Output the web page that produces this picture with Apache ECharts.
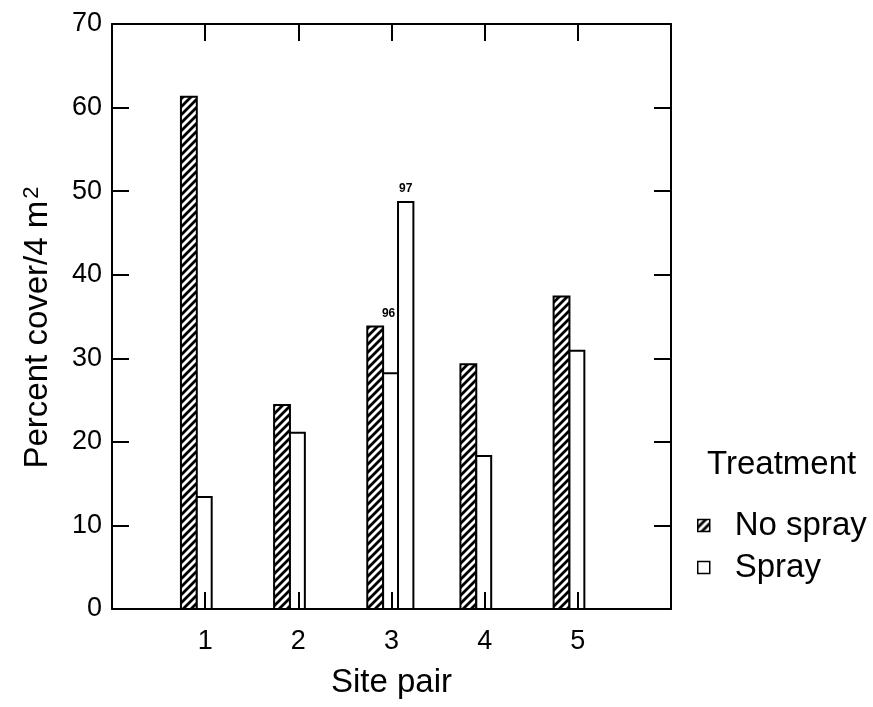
<!DOCTYPE html>
<html>
<head>
<meta charset="utf-8">
<script src="https://cdn.jsdelivr.net/npm/echarts@6/dist/echarts.min.js"></script>
<style>
  html, body { margin: 0; padding: 0; background: #fff; }
  #chart { width: 873px; height: 707px; }
</style>
</head>
<body>
<div id="chart"></div>
<script>
// Percent cover per 4 m² by site pair, unsprayed vs sprayed plots
const sites = [1, 2, 3, 4, 5];
const noSpray = [61.3, 24.4, 33.8, 29.3, 37.4];
const spray = [13.4, 21.1, 28.2, 18.3, 30.9];
const sprayNotes = ['', '', '96', '', ''];
// second survey of the sprayed plot at site pair 3
const spraySecondSites = [3];
const spraySecond = [48.7];
const spraySecondNotes = ['97'];
const yTicks = [0, 10, 20, 30, 40, 50, 60, 70];

const FONT = 'Liberation Sans, Arial, Helvetica, sans-serif';
const TICK_SIZE = 27;
const NAME_SIZE = 33;

// diagonal hatch tile
function hatchTile() {
  const p = 8;
  const c = document.createElement('canvas');
  c.width = p; c.height = p;
  const g = c.getContext('2d');
  g.fillStyle = '#fff';
  g.fillRect(0, 0, p, p);
  g.strokeStyle = '#000';
  g.lineWidth = 2.8;
  g.beginPath();
  g.moveTo(-1, 1); g.lineTo(1, -1);
  g.moveTo(-1, p + 1); g.lineTo(p + 1, -1);
  g.moveTo(p - 1, p + 1); g.lineTo(p + 1, p - 1);
  g.stroke();
  return c;
}
const hatch = { image: hatchTile(), repeat: 'repeat' };

// bar slots relative to the site tick, in axis units
const SLOT_NOSPRAY = [-0.26, -0.09];
const SLOT_SPRAY = [-0.09, 0.07];
const SLOT_SPRAY2 = [0.07, 0.235];

function makeBar(slot, fill, notes, hatchedTops) {
  return function (params, api) {
    const s = api.value(0);
    const v = api.value(1);
    const a = api.coord([s + slot[0], v]);
    const b = api.coord([s + slot[1], 0]);
    const children = [{
      type: 'rect',
      shape: { x: a[0], y: a[1], width: b[0] - a[0], height: b[1] - a[1] },
      style: { fill: fill, stroke: '#000', lineWidth: 2 }
    }];
    const note = notes ? notes[params.dataIndex] : '';
    if (note) {
      let top = v;
      if (hatchedTops) top = Math.max(v, hatchedTops[sites.indexOf(s)]);
      const t = api.coord([s + slot[0], top]);
      children.push({
        type: 'text',
        x: (a[0] + b[0]) / 2 - (hatchedTops ? 2 : 0),
        y: t[1] - 7,
        style: {
          text: note, fill: '#000', align: 'center', verticalAlign: 'bottom',
          font: 'bold 12px "Liberation Sans Narrow", ' + FONT
        }
      });
    }
    return { type: 'group', children: children };
  };
}

const chart = echarts.init(document.getElementById('chart'), null, { renderer: 'canvas' });

const axisLine = { show: true, onZero: false, lineStyle: { color: '#000', width: 2 } };
const tickStyle = { color: '#000', width: 2 };

chart.setOption({
  animation: false,
  backgroundColor: '#fff',
  grid: { left: 112, top: 24, width: 559, bottom: 98 },
  title: {
    text: 'Treatment', left: 707, top: 448, padding: 0,
    textStyle: { fontFamily: FONT, fontSize: NAME_SIZE, fontWeight: 'normal', color: '#000' }
  },
  legend: {
    orient: 'vertical', left: 692, top: 504,
    icon: 'rect', itemWidth: 12, itemHeight: 12, itemGap: 9,
    textStyle: { fontFamily: FONT, fontSize: NAME_SIZE, color: '#000', padding: [0, 0, 0, 20] },
    data: [
      { name: 'No spray', itemStyle: { color: hatch, borderColor: '#000', borderWidth: 1.5 } },
      { name: 'Spray', itemStyle: { color: '#fff', borderColor: '#000', borderWidth: 1.5 } }
    ]
  },
  xAxis: [{
    type: 'value', min: 0, max: 6, interval: 1, position: 'bottom', z: 5,
    name: 'Site pair', nameLocation: 'middle', nameGap: 57,
    nameTextStyle: { fontFamily: FONT, fontSize: NAME_SIZE, color: '#000' },
    axisLine: axisLine,
    axisTick: { show: true, inside: true, length: 17, customValues: sites, lineStyle: tickStyle },
    axisLabel: { customValues: sites, margin: 19, fontFamily: FONT, fontSize: TICK_SIZE, color: '#000' },
    splitLine: { show: false }
  }, {
    type: 'value', min: 0, max: 6, interval: 1, position: 'top',
    axisLine: axisLine,
    axisTick: { show: true, inside: true, length: 17, customValues: sites, lineStyle: tickStyle },
    axisLabel: { show: false },
    splitLine: { show: false }
  }],
  yAxis: [{
    type: 'value', min: 0, max: 70, interval: 10, position: 'left',
    name: 'Percent cover/4 m{sup|2}', nameLocation: 'middle', nameGap: 57,
    nameTextStyle: {
      fontFamily: FONT, fontSize: NAME_SIZE, color: '#000', padding: [0, 22, 0, 0],
      rich: { sup: { fontFamily: FONT, fontSize: 22, color: '#000', verticalAlign: 'top', padding: [0, 0, 12, 2] } }
    },
    axisLine: axisLine,
    axisTick: { show: true, inside: true, length: 17, customValues: yTicks, lineStyle: tickStyle },
    axisLabel: { customValues: yTicks, margin: 10, fontFamily: FONT, fontSize: TICK_SIZE, color: '#000' },
    splitLine: { show: false }
  }, {
    type: 'value', min: 0, max: 70, interval: 10, position: 'right',
    axisLine: axisLine,
    axisTick: { show: true, inside: true, length: 17, customValues: yTicks, lineStyle: tickStyle },
    axisLabel: { show: false },
    splitLine: { show: false }
  }],
  series: [{
    name: 'No spray', type: 'custom', xAxisIndex: 0, yAxisIndex: 0,
    itemStyle: { color: hatch, borderColor: '#000' },
    renderItem: makeBar(SLOT_NOSPRAY, hatch, null, null),
    data: sites.map((s, i) => [s, noSpray[i]])
  }, {
    name: 'Spray', type: 'custom', xAxisIndex: 0, yAxisIndex: 0,
    itemStyle: { color: '#fff', borderColor: '#000' },
    renderItem: makeBar(SLOT_SPRAY, '#fff', sprayNotes, noSpray),
    data: sites.map((s, i) => [s, spray[i]])
  }, {
    name: 'Spray', type: 'custom', xAxisIndex: 0, yAxisIndex: 0,
    itemStyle: { color: '#fff', borderColor: '#000' },
    renderItem: makeBar(SLOT_SPRAY2, '#fff', spraySecondNotes, null),
    data: spraySecondSites.map((s, i) => [s, spraySecond[i]])
  }]
});
</script>
</body>
</html>
